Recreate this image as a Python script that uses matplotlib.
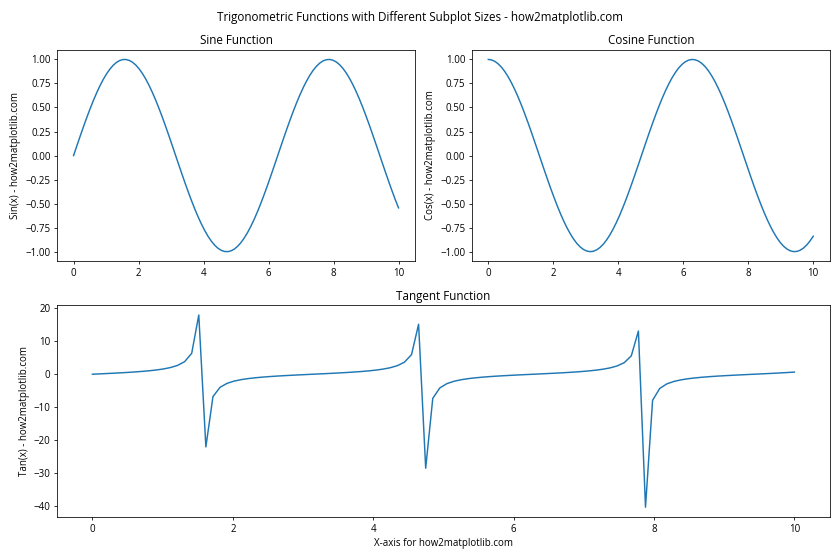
import numpy as np
import matplotlib
matplotlib.use('Agg')
import matplotlib.pyplot as plt

plt.rcParams['font.family'] = ['Open Sans', 'DejaVu Sans']

# sample points (100 points from 0 to 10)
x = [0.0000, 0.1010, 0.2020, 0.3030, 0.4040, 0.5051, 0.6061, 0.7071, 0.8081, 0.9091,
     1.0101, 1.1111, 1.2121, 1.3131, 1.4141, 1.5152, 1.6162, 1.7172, 1.8182, 1.9192,
     2.0202, 2.1212, 2.2222, 2.3232, 2.4242, 2.5253, 2.6263, 2.7273, 2.8283, 2.9293,
     3.0303, 3.1313, 3.2323, 3.3333, 3.4343, 3.5354, 3.6364, 3.7374, 3.8384, 3.9394,
     4.0404, 4.1414, 4.2424, 4.3434, 4.4444, 4.5455, 4.6465, 4.7475, 4.8485, 4.9495,
     5.0505, 5.1515, 5.2525, 5.3535, 5.4545, 5.5556, 5.6566, 5.7576, 5.8586, 5.9596,
     6.0606, 6.1616, 6.2626, 6.3636, 6.4646, 6.5657, 6.6667, 6.7677, 6.8687, 6.9697,
     7.0707, 7.1717, 7.2727, 7.3737, 7.4747, 7.5758, 7.6768, 7.7778, 7.8788, 7.9798,
     8.0808, 8.1818, 8.2828, 8.3838, 8.4848, 8.5859, 8.6869, 8.7879, 8.8889, 8.9899,
     9.0909, 9.1919, 9.2929, 9.3939, 9.4949, 9.5960, 9.6970, 9.7980, 9.8990, 10.0000]

sin_y = [0.0000, 0.1008, 0.2006, 0.2984, 0.3931, 0.4838, 0.5696, 0.6496, 0.7230, 0.7889,
         0.8469, 0.8962, 0.9364, 0.9670, 0.9878, 0.9985, 0.9990, 0.9893, 0.9696, 0.9399,
         0.9007, 0.8523, 0.7952, 0.7300, 0.6574, 0.5781, 0.4928, 0.4026, 0.3082, 0.2107,
         0.1111, 0.0103, -0.0906, -0.1906, -0.2886, -0.3837, -0.4748, -0.5612, -0.6418, -0.7158,
         -0.7826, -0.8414, -0.8916, -0.9327, -0.9643, -0.9861, -0.9978, -0.9994, -0.9908, -0.9720,
         -0.9434, -0.9051, -0.8576, -0.8014, -0.7370, -0.6651, -0.5864, -0.5017, -0.4120, -0.3180,
         -0.2207, -0.1213, -0.0206, 0.0804, 0.1805, 0.2787, 0.3742, 0.4658, 0.5526, 0.6338,
         0.7086, 0.7761, 0.8358, 0.8869, 0.9289, 0.9615, 0.9843, 0.9971, 0.9997, 0.9921,
         0.9744, 0.9467, 0.9094, 0.8629, 0.8075, 0.7439, 0.6727, 0.5947, 0.5106, 0.4213,
         0.3277, 0.2308, 0.1315, 0.0308, -0.0701, -0.1703, -0.2688, -0.3646, -0.4566, -0.5440]

cos_y = [1.0000, 0.9949, 0.9797, 0.9544, 0.9195, 0.8752, 0.8219, 0.7603, 0.6909, 0.6145,
         0.5318, 0.4437, 0.3510, 0.2548, 0.1560, 0.0556, -0.0453, -0.1459, -0.2449, -0.3414,
         -0.4344, -0.5230, -0.6063, -0.6834, -0.7536, -0.8160, -0.8701, -0.9154, -0.9513, -0.9775,
         -0.9938, -0.9999, -0.9959, -0.9817, -0.9575, -0.9235, -0.8801, -0.8277, -0.7669, -0.6983,
         -0.6225, -0.5405, -0.4529, -0.3606, -0.2648, -0.1662, -0.0659, 0.0351, 0.1357, 0.2349,
         0.3317, 0.4251, 0.5143, 0.5981, 0.6759, 0.7468, 0.8100, 0.8650, 0.9112, 0.9481,
         0.9753, 0.9926, 0.9998, 0.9968, 0.9836, 0.9604, 0.9274, 0.8849, 0.8334, 0.7735,
         0.7056, 0.6306, 0.5491, 0.4620, 0.3702, 0.2746, 0.1763, 0.0761, -0.0248, -0.1255,
         -0.2249, -0.3220, -0.4158, -0.5054, -0.5898, -0.6683, -0.7399, -0.8039, -0.8598, -0.9069,
         -0.9448, -0.9730, -0.9913, -0.9995, -0.9975, -0.9854, -0.9632, -0.9312, -0.8897, -0.8391]

tan_y = [0.0000, 0.1014, 0.2048, 0.3127, 0.4276, 0.5529, 0.6931, 0.8545, 1.0464, 1.2839,
         1.5925, 2.0200, 2.6674, 3.7947, 6.331, 17.953, -22.029, -6.783, -3.960, -2.753,
         -2.073, -1.630, -1.312, -1.068, -0.8724, -0.7084, -0.5664, -0.4398, -0.3240, -0.2156,
         -0.1118, -0.0103, 0.0910, 0.1941, 0.3014, 0.4155, 0.5395, 0.6780, 0.8368, 1.0251,
         1.2571, 1.5568, 1.9688, 2.5863, 3.6424, 5.935, 15.147, -28.490, -7.302, -4.138,
         -2.844, -2.129, -1.668, -1.340, -1.0905, -0.8907, -0.7240, -0.5800, -0.4521, -0.3354,
         -0.2263, -0.1222, -0.0206, 0.0806, 0.1835, 0.2902, 0.4035, 0.5263, 0.6631, 0.8195,
         1.0043, 1.2309, 1.5222, 1.9197, 2.5093, 3.5010, 5.584, 13.097, -40.306, -7.906,
         -4.333, -2.940, -2.187, -1.707, -1.369, -1.1132, -0.9093, -0.7397, -0.5939, -0.4645,
         -0.3469, -0.2372, -0.1326, -0.0309, 0.0703, 0.1729, 0.2791, 0.3916, 0.5133, 0.6484]

fig = plt.figure(figsize=(12, 8), dpi=70)
gs = fig.add_gridspec(2, 2)

ax1 = fig.add_subplot(gs[0, 0])
ax1.plot(x, sin_y)
ax1.set_title('Sine Function')
ax1.set_ylabel('Sin(x) - how2matplotlib.com')

ax2 = fig.add_subplot(gs[0, 1])
ax2.plot(x, cos_y)
ax2.set_title('Cosine Function')
ax2.set_ylabel('Cos(x) - how2matplotlib.com')

ax3 = fig.add_subplot(gs[1, :])
ax3.plot(x, tan_y)
ax3.set_title('Tangent Function')
ax3.set_xlabel('X-axis for how2matplotlib.com')
ax3.set_ylabel('Tan(x) - how2matplotlib.com')

fig.suptitle('Trigonometric Functions with Different Subplot Sizes - how2matplotlib.com')
plt.tight_layout()
plt.savefig('out.png')
